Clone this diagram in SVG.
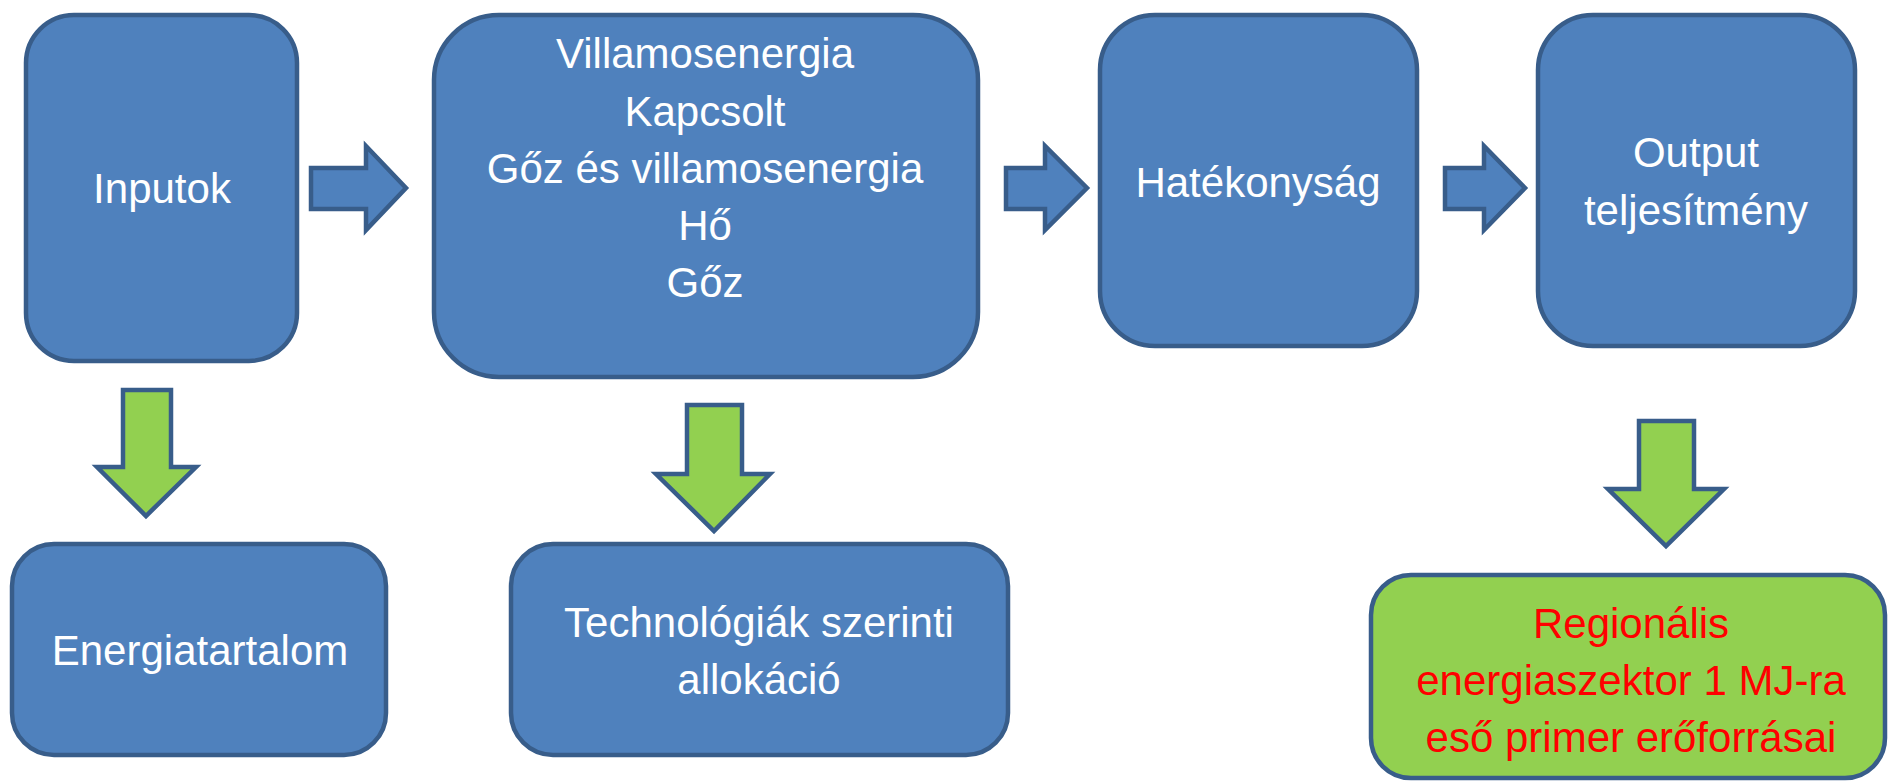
<svg xmlns="http://www.w3.org/2000/svg" width="1888" height="782" viewBox="0 0 1888 782">
<style>
.box{fill:#4f81bd;stroke:#385d8a;stroke-width:4.5}
.gbox{fill:#92d050;stroke:#385d8a;stroke-width:4.5}
.arr{fill:#4f81bd;stroke:#385d8a;stroke-width:4.5;stroke-linejoin:miter}
.garr{fill:#92d050;stroke:#385d8a;stroke-width:4.5;stroke-linejoin:miter}
.t{font-family:"Liberation Sans",Arial,sans-serif;font-size:42px;fill:#ffffff;text-anchor:middle}
.r{fill:#ff0000}
</style>
<rect width="1888" height="782" fill="#ffffff"/>
<g id="connectors">
<polygon class="arr" points="311,168 366,168 366,146 406,188 366,230 366,209 311,209"/>
<polygon class="arr" points="1006,168 1045,168 1045,146 1087,188 1045,230 1045,209 1006,209"/>
<polygon class="arr" points="1445,168 1484,168 1484,146 1525,188 1484,230 1484,209 1445,209"/>
<polygon class="garr" points="123,390 171,390 171,467 196,467 146,516 97,467 123,467"/>
<polygon class="garr" points="687,405 742,405 742,474 770,474 714,531 656,474 687,474"/>
<polygon class="garr" points="1639,421 1694,421 1694,489 1724,489 1666,546 1608,489 1639,489"/>
</g>
<g id="inputok">
<rect class="box" x="26" y="15" width="271" height="346" rx="48"/>
<text class="t" x="162" y="203">Inputok</text>
</g>
<g id="villamosenergia">
<rect class="box" x="434" y="15" width="544" height="362" rx="65"/>
<text class="t" x="705" y="68">Villamosenergia</text>
<text class="t" x="705" y="126">Kapcsolt</text>
<text class="t" x="705" y="183">Gőz és villamosenergia</text>
<text class="t" x="705" y="240">Hő</text>
<text class="t" x="705" y="297">Gőz</text>
</g>
<g id="hatekonysag">
<rect class="box" x="1100" y="15" width="317" height="331" rx="55"/>
<text class="t" x="1258" y="197">Hatékonyság</text>
</g>
<g id="output">
<rect class="box" x="1538" y="15" width="317" height="331" rx="55"/>
<text class="t" x="1696" y="167">Output</text>
<text class="t" x="1696" y="225">teljesítmény</text>
</g>
<g id="energiatartalom">
<rect class="box" x="12" y="544" width="374" height="211" rx="42"/>
<text class="t" x="200" y="665">Energiatartalom</text>
</g>
<g id="technologiak">
<rect class="box" x="511" y="544" width="497" height="211" rx="42"/>
<text class="t" x="759" y="637">Technológiák szerinti</text>
<text class="t" x="759" y="694">allokáció</text>
</g>
<g id="regionalis">
<rect class="gbox" x="1371" y="575" width="514" height="203" rx="40"/>
<text class="t r" x="1631" y="638">Regionális</text>
<text class="t r" x="1631" y="695">energiaszektor 1 MJ-ra</text>
<text class="t r" x="1631" y="752">eső primer erőforrásai</text>
</g>
</svg>
